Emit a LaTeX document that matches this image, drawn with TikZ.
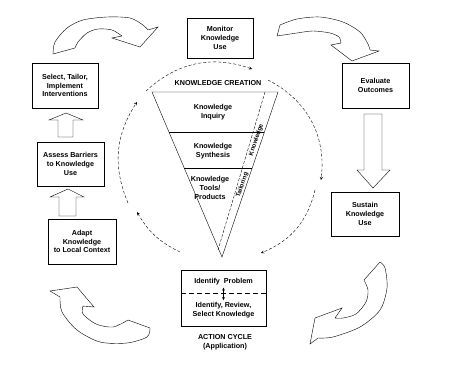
\documentclass[tikz,border=0pt]{standalone}
\usepackage{fontspec}
\setmainfont{Liberation Sans}
\usetikzlibrary{arrows, calc}
\tikzset{
    kbox/.style={rectangle, draw=black, thin, align=center, minimum width=67pt, minimum height=45pt, inner sep=1pt, font=\fontsize{7.2}{8.6}\selectfont\bfseries},
    klabel/.style={align=center, inner sep=0pt, font=\fontsize{7.2}{8.6}\selectfont\bfseries},
    slantlabel/.style={inner sep=0pt, rotate=71.3, font=\fontsize{6.2}{7}\selectfont\bfseries},
    cyclearrow/.style={thin, ->, >=stealth, dash pattern=on 3pt off 2pt},
    bigarrow/.style={draw=black, thin, fill=white, line join=miter}
}

\begin{document}
\begin{tikzpicture}[x=1pt, y=-1pt]
    \useasboundingbox (0,0) rectangle (470,367);

    % Action cycle boxes
    \node[kbox, minimum width=66pt, minimum height=40pt] (monitor) at (220,38) {Monitor\\Knowledge\\Use};
    \node[kbox] (evaluate) at (375.5,85.5) {Evaluate\\Outcomes};
    \node[kbox, minimum width=68pt, minimum height=44pt] (sustain) at (365,214) {Sustain\\Knowledge\\Use};
    \node[kbox, minimum width=66pt] (select) at (65,85.5) {Select, Tailor,\\Implement\\Interventions};
    \node[kbox, minimum height=44pt] (assess) at (70.5,164) {Assess Barriers\\to Knowledge\\Use};
    \node[kbox, minimum width=68pt] (adapt) at (82,241.5) {Adapt\\Knowledge\\to Local Context};

    % Identify problem box
    \node[kbox, minimum width=85pt, minimum height=56pt] (identify) at (223.5,298) {};
    \node[klabel] (problem) at (223.5,282) {Identify\ \ Problem};
    \node[klabel] (review) at (223.5,310) {Identify, Review,\\Select Knowledge};
    \draw[thin, dash pattern=on 5pt off 3pt] ($(identify.west)+(0,-5)$) -- ($(identify.east)+(0,-5)$);
    \draw[thin, <->, >=stealth] ($(problem.south)+(0,2)$) -- ($(review.north)+(0,-2)$);
    \node[klabel] (action) at (225,342) {ACTION CYCLE\\(Application)};

    % Straight block arrows
    \draw[bigarrow] (58,137) -- (58,120) -- (49,120) -- (66,113) -- (83,120) -- (73,120) -- (73,137) -- cycle;
    \draw[bigarrow] (59,216) -- (59,197) -- (50,197) -- (68,189) -- (84,197) -- (76,197) -- (76,216) -- cycle;
    \draw[bigarrow] (364,114) -- (364,170) -- (357,170) -- (373,188) -- (390,170) -- (382,170) -- (382,114) -- cycle;

    % Curved block arrows
    \draw[bigarrow] plot[smooth] coordinates {(53,54) (55,42) (67,28) (83,20) (107,17) (130,18) (143,25) (148,30)}
        -- (158,27) -- (140,47) -- (112,38) -- (122,36)
        -- plot[smooth] coordinates {(122,36) (112,30) (98,29) (87,33) (78,42) (75,48)} -- cycle;
    \draw[bigarrow] plot[smooth] coordinates {(280,25) (297,19) (320,17) (343,22) (360,32) (368,44) (370,50)}
        -- (379,51) -- (352,61) -- (331,45) -- (341,43)
        -- plot[smooth] coordinates {(341,43) (339,37) (330,33) (313,31) (297,33) (277,36)} -- cycle;
    \draw[bigarrow] (380,262) -- (364,280)
        -- plot[smooth] coordinates {(364,280) (368,290) (366,302) (356,314) (343,318) (335,318)}
        -- (342,308) -- (315,318) -- (310,344) -- (318,338)
        -- plot[smooth] coordinates {(318,338) (333,337) (360,327) (380,310) (387,288) (385,268) (380,262)} -- cycle;
    \draw[bigarrow] (50,291) -- (77,287) -- (94,307) -- (83,306)
        -- plot[smooth] coordinates {(83,306) (83,314) (96,324) (113,327) (128,320)}
        -- (150,328)
        -- plot[smooth] coordinates {(150,328) (147,337) (127,343) (100,342) (77,330) (62,312) (60,297)} -- cycle;

    % Knowledge creation funnel
    \coordinate (tl) at (152,92);
    \coordinate (tr) at (278,92);
    \coordinate (apex) at (222,257);
    \draw[thin] (tl) -- (tr) -- (apex) -- cycle;
    \draw[thin] ($(tl)!0.2424!(apex)$) -- ($(tr)!0.2424!(apex)$);
    \draw[thin] ($(tl)!0.4606!(apex)$) -- ($(tr)!0.4606!(apex)$);
    \draw[thin, dash pattern=on 3pt off 1.5pt] (265,92) -- (218,250);
    \node[klabel] (creation) at (218,83) {KNOWLEDGE CREATION};
    \node[klabel] (inquiry) at (213,112) {Knowledge\\Inquiry};
    \node[klabel] (synthesis) at (213,151) {Knowledge\\Synthesis};
    \node[klabel] (tools) at (210,188) {Knowledge\\Tools/\\Products};
    \node[slantlabel] (knowl) at (256.3,140) {Knowledge};
    \node[slantlabel] (tailor) at (242.3,185) {Tailoring};

    % Dashed cycle round the funnel
    \coordinate (c1) at (180,252);
    \coordinate (c2) at (137,212);
    \coordinate (c3) at (128,203);
    \coordinate (c4) at (137,102);
    \coordinate (c5) at (146,91);
    \coordinate (c6) at (252,69);
    \coordinate (c7) at (268,80);
    \coordinate (c8) at (321,180);
    \coordinate (c9) at (315,190);
    \coordinate (c10) at (261,253);
    \draw[cyclearrow] (c1) to[bend left=17] (c2);
    \draw[cyclearrow] (c3) to[bend left=28] (c4);
    \draw[cyclearrow] (c5) to[bend left=31] (c6);
    \draw[cyclearrow] (c7) to[bend left=35] (c8);
    \draw[cyclearrow] (c9) to[bend left=27] (c10);
\end{tikzpicture}
\end{document}
